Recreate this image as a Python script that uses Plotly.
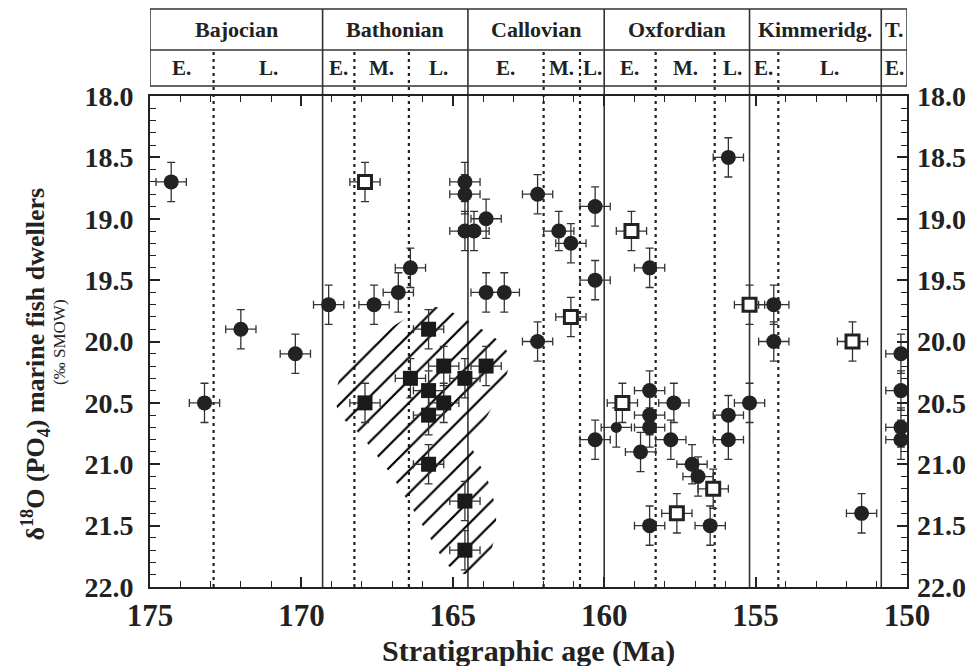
import plotly.graph_objects as go

# ---------------- data ----------------
circle_x = [174.3, 173.2, 172.0, 170.2, 169.1, 167.6, 166.8, 166.4,
            164.6, 164.6, 164.6, 164.3, 163.9, 163.9, 163.3,
            162.2, 162.2, 161.5, 161.1, 160.3, 160.3, 160.3,
            158.5, 158.5, 158.5, 158.5, 158.8, 157.7, 157.8, 157.1, 156.9,
            158.5, 156.5, 155.9, 155.9, 155.9, 155.2, 154.4, 154.4,
            151.5, 150.2, 150.2, 150.2, 150.2]
circle_y = [18.7, 20.5, 19.9, 20.1, 19.7, 19.7, 19.6, 19.4,
            18.7, 18.8, 19.1, 19.1, 19.0, 19.6, 19.6,
            18.8, 20.0, 19.1, 19.2, 18.9, 19.5, 20.8,
            19.4, 20.4, 20.6, 20.7, 20.9, 20.5, 20.8, 21.0, 21.1,
            21.5, 21.5, 18.5, 20.6, 20.8, 20.5, 19.7, 20.0,
            21.4, 20.1, 20.4, 20.7, 20.8]

small_circle_x = [159.6]
small_circle_y = [20.7]

fsq_x = [167.9, 166.4, 165.8, 165.3, 164.6, 163.9, 165.8, 165.3, 165.8, 165.8, 164.6, 164.6]
fsq_y = [20.5, 20.3, 19.9, 20.2, 20.3, 20.2, 20.4, 20.5, 20.6, 21.0, 21.3, 21.7]

osq_x = [167.9, 161.1, 159.1, 155.2, 151.8, 159.4, 157.6, 156.4]
osq_y = [18.7, 19.8, 19.1, 19.7, 20.0, 20.5, 21.4, 21.2]

err_age = 0.5
err_d18o = 0.16

# hatched field outline (age, d18O)
hatch_x = [168.66, 167.77, 165.85, 165.22, 164.70, 164.23, 163.77, 163.34, 163.08,
           163.34, 164.40, 164.20, 163.90, 163.71, 163.57, 163.57, 163.84, 164.20,
           164.86, 165.26, 165.55, 165.85, 166.12, 166.41, 166.68, 166.97, 167.31,
           167.64, 167.97, 168.33, 168.73, 168.92]
hatch_y = [20.22, 20.00, 19.70, 19.74, 19.80, 19.87, 19.94, 20.02, 20.14,
           20.38, 20.84, 20.97, 21.09, 21.23, 21.37, 21.56, 21.80, 21.90,
           21.89, 21.80, 21.68, 21.56, 21.45, 21.33, 21.22, 21.11, 20.99,
           20.89, 20.78, 20.69, 20.61, 20.46]

# stratigraphy
stage_bounds = [175.0, 169.3, 164.5, 160.0, 155.2, 150.85, 150.0]
stage_names = ["Bajocian", "Bathonian", "Callovian", "Oxfordian", "Kimmeridg.", "T."]
sub_bounds = [175.0, 172.9, 169.3, 168.25, 166.45, 164.5, 162.0, 160.8, 160.0,
              158.3, 156.35, 155.2, 154.25, 150.85, 150.0]
sub_names = ["E.", "L.", "E.", "M.", "L.", "E.", "M.", "L.", "E.", "M.", "L.", "E.", "L.", "E."]
dashed_lines = [172.9, 168.25, 166.45, 162.0, 160.8, 158.3, 156.35, 154.25]
solid_lines = [169.3, 164.5, 160.0, 155.2, 150.85]

y_ticks = [18.0, 18.5, 19.0, 19.5, 20.0, 20.5, 21.0, 21.5, 22.0]
x_ticks = [175, 170, 165, 160, 155, 150]

# ---------------- style ----------------
FONT = "Liberation Serif, Times New Roman, serif"
INK = "#222222"
LINE = "#333333"

fig = go.Figure()

fig.add_trace(go.Scatter(
    x=hatch_x, y=hatch_y, mode="lines", fill="toself",
    line=dict(width=0, color="rgba(0,0,0,0)"),
    fillcolor="rgba(0,0,0,0)",
    fillpattern=dict(shape="/", fgcolor="#000000", fgopacity=1, bgcolor="rgba(0,0,0,0)",
                     size=16, solidity=0.14),
    hoverinfo="skip", showlegend=False))

eb = dict(thickness=1.3, width=4, color=LINE)

fig.add_trace(go.Scatter(
    x=circle_x, y=circle_y, mode="markers",
    marker=dict(symbol="circle", size=15, color=INK, line=dict(width=0)),
    error_x=dict(type="constant", value=err_age, **eb),
    error_y=dict(type="constant", value=err_d18o, **eb),
    cliponaxis=False, showlegend=False))

fig.add_trace(go.Scatter(
    x=small_circle_x, y=small_circle_y, mode="markers",
    marker=dict(symbol="circle", size=11, color=INK, line=dict(width=0)),
    error_x=dict(type="constant", value=err_age, **eb),
    error_y=dict(type="constant", value=err_d18o, **eb),
    cliponaxis=False, showlegend=False))

fig.add_trace(go.Scatter(
    x=fsq_x, y=fsq_y, mode="markers",
    marker=dict(symbol="square", size=15, color="#1a1a1a", line=dict(width=0)),
    error_x=dict(type="constant", value=err_age, **eb),
    error_y=dict(type="constant", value=err_d18o, **eb),
    cliponaxis=False, showlegend=False))

fig.add_trace(go.Scatter(
    x=osq_x, y=osq_y, mode="markers",
    marker=dict(symbol="square", size=13, color="white", line=dict(width=3, color=INK)),
    error_x=dict(type="constant", value=err_age, **eb),
    error_y=dict(type="constant", value=err_d18o, **eb),
    cliponaxis=False, showlegend=False))

# invisible trace so the right-hand axis is drawn
fig.add_trace(go.Scatter(
    x=[stage_bounds[0]], y=[y_ticks[0]], yaxis="y2", mode="markers",
    marker=dict(opacity=0), hoverinfo="skip", showlegend=False))

# ---------------- header & boundary lines ----------------
Y_TOP = 1.177
Y_MID = 1.0937
Y_BOT = 1.0204
shapes = []
shapes.append(dict(type="rect", xref="x", yref="paper", x0=stage_bounds[0], x1=stage_bounds[-1],
                   y0=Y_BOT, y1=Y_TOP, line=dict(color=LINE, width=1.5), layer="below"))
shapes.append(dict(type="line", xref="x", yref="paper", x0=stage_bounds[0], x1=stage_bounds[-1],
                   y0=Y_MID, y1=Y_MID, line=dict(color=LINE, width=1.5), layer="below"))
for b in solid_lines:
    shapes.append(dict(type="line", xref="x", yref="paper", x0=b, x1=b, y0=0, y1=Y_TOP,
                       line=dict(color=LINE, width=1.6), layer="below"))
for b in dashed_lines:
    shapes.append(dict(type="line", xref="x", yref="paper", x0=b, x1=b, y0=0, y1=Y_MID,
                       line=dict(color=INK, width=2.2, dash="3px,4px"), layer="below"))

annotations = []
for i, name in enumerate(stage_names):
    annotations.append(dict(x=(stage_bounds[i] + stage_bounds[i + 1]) / 2, y=(Y_TOP + Y_MID) / 2,
                            xref="x", yref="paper", text=name, showarrow=False,
                            xanchor="center", yanchor="middle",
                            font=dict(family=FONT, size=22, color=INK, weight="bold")))
for i, name in enumerate(sub_names):
    annotations.append(dict(x=(sub_bounds[i] + sub_bounds[i + 1]) / 2, y=(Y_MID + Y_BOT) / 2,
                            xref="x", yref="paper", text=name, showarrow=False,
                            xanchor="center", yanchor="middle",
                            font=dict(family=FONT, size=21, color=INK, weight="bold")))

annotations.append(dict(x=0.5, y=-0.13, xref="paper", yref="paper",
                        text="Stratigraphic age (Ma)", showarrow=False,
                        xanchor="center", yanchor="middle",
                        font=dict(family=FONT, size=30, color=INK, weight="bold")))
annotations.append(dict(x=-0.152, y=0.455, xref="paper", yref="paper",
                        text="δ<sup>18</sup>O (PO<sub>4</sub>) marine fish dwellers",
                        showarrow=False, textangle=-90, xanchor="center", yanchor="middle",
                        font=dict(family=FONT, size=26, color=INK, weight="bold")))
annotations.append(dict(x=-0.119, y=0.499, xref="paper", yref="paper",
                        text="(‰ SMOW)", showarrow=False, textangle=-90,
                        xanchor="center", yanchor="middle",
                        font=dict(family=FONT, size=17, color=INK)))

tickfont = dict(family=FONT, size=28, color=INK, weight="bold")

fig.update_layout(
    width=974, height=666,
    margin=dict(l=150, r=67, t=96, b=79, autoexpand=False),
    paper_bgcolor="white", plot_bgcolor="rgba(0,0,0,0)",
    shapes=shapes, annotations=annotations,
    xaxis=dict(range=[stage_bounds[0], stage_bounds[-1]], tickvals=x_ticks,
               ticktext=[str(v) for v in x_ticks],
               ticks="inside", ticklen=10, tickwidth=1.5, tickcolor=INK,
               minor=dict(dtick=1, ticks="inside", ticklen=6, tickwidth=1.2, tickcolor=INK),
               showline=True, linecolor=INK, linewidth=2, mirror="ticks",
               showgrid=False, zeroline=False,
               tickfont=dict(family=FONT, size=31, color=INK, weight="bold")),
    yaxis=dict(range=[22, 18], tickvals=y_ticks, ticktext=[f"{v:.1f}" for v in y_ticks],
               ticks="inside", ticklen=10, tickwidth=1.5, tickcolor=INK,
               minor=dict(dtick=0.1, ticks="inside", ticklen=6, tickwidth=1.2, tickcolor=INK),
               showline=True, linecolor=INK, linewidth=2, mirror=True,
               showgrid=False, zeroline=False, tickfont=tickfont, ticklabelstandoff=9),
    yaxis2=dict(range=[22, 18], overlaying="y", side="right", anchor="x",
                tickvals=y_ticks, ticktext=[f"{v:.1f}" for v in y_ticks],
                ticks="inside", ticklen=10, tickwidth=1.5, tickcolor=INK,
                minor=dict(dtick=0.1, ticks="inside", ticklen=6, tickwidth=1.2, tickcolor=INK),
                showline=False, showgrid=False, zeroline=False, tickfont=tickfont,
                ticklabelstandoff=9),
)

fig.write_html("out.html")
